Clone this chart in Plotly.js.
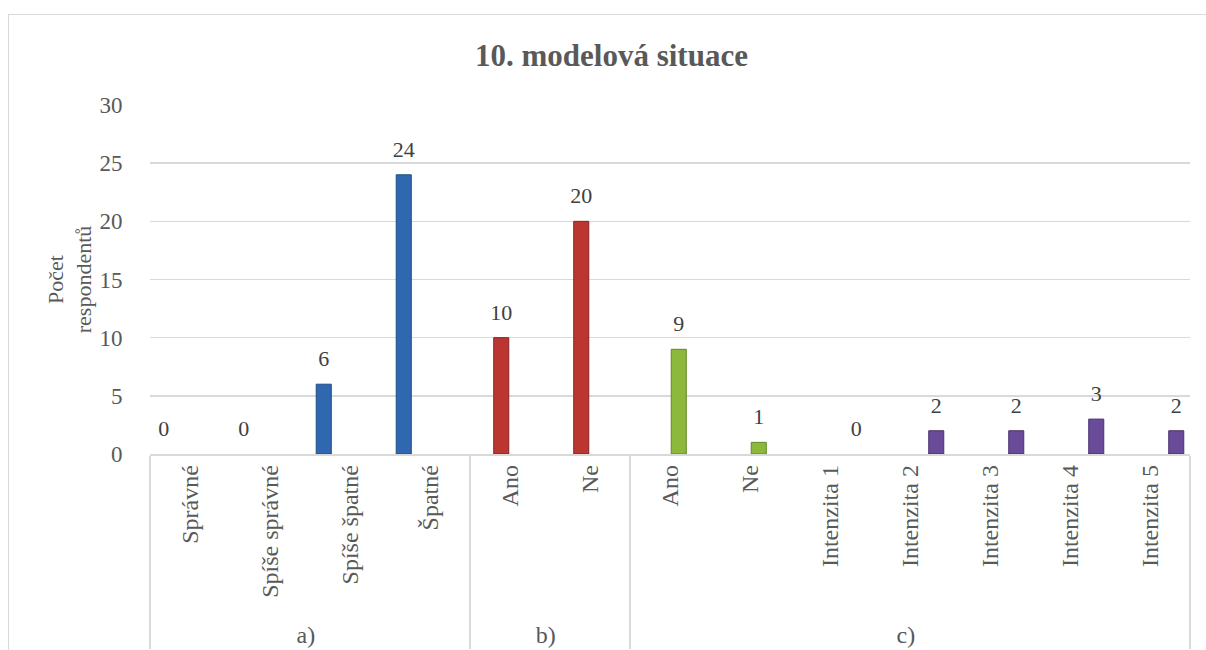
<!DOCTYPE html>
<html>
<head>
<meta charset="utf-8">
<script src="https://cdn.plot.ly/plotly-3.0.1.min.js"></script>
<style>
  html, body { margin: 0; padding: 0; background: #fff; overflow: hidden; }
  #wrap { position: relative; width: 1206px; height: 650px; }
  #chart { width: 1206px; height: 650px; }
  #frame {
    position: absolute; left: 8px; top: 14px; width: 1210px; height: 650px;
    border: 1.5px solid #d9d9d9; pointer-events: none; box-sizing: border-box;
  }
</style>
</head>
<body>
<div id="wrap">
  <div id="chart"></div>
  <div id="frame"></div>
</div>
<script>
// Question groups and their answer categories
const groupA = "a)";
const groupB = "b)";
const groupC = "c)";

const catsA = ["Správné", "Spíše správné", "Spíše špatné", "Špatné"];
const valsA = [0, 0, 6, 24];

const catsB = ["Ano", "Ne"];
const valsB = [10, 20];

const catsC1 = ["Ano", "Ne"];
const valsC1 = [9, 1];

const catsC2 = ["Intenzita 1", "Intenzita 2", "Intenzita 3", "Intenzita 4", "Intenzita 5"];
const valsC2 = [0, 2, 2, 3, 2];

const yTicks = [0, 5, 10, 15, 20, 25, 30];

const serif = "'Liberation Serif', 'Times New Roman', serif";
// gap (in axis units) between a bar's top and its value label
const LABEL_GAP = 0.85;

function series(group, cats, vals, fill, edge, slot) {
  const x = [cats.map(() => group), cats];
  const bar = {
    type: "bar",
    x: x,
    y: vals,
    offsetgroup: slot,
    alignmentgroup: "all",
    // no outline on empty (zero) bars
    marker: { color: fill, line: { color: edge, width: vals.map(v => (v ? 1 : 0)) } },
    hoverinfo: "x+y",
    showlegend: false
  };
  // transparent spacer sitting on top of each bar, carrying the value label
  const label = {
    type: "bar",
    x: x,
    base: vals,
    y: vals.map(() => LABEL_GAP),
    offsetgroup: slot,
    alignmentgroup: "all",
    marker: { color: "rgba(0,0,0,0)", line: { width: 0 } },
    text: vals.map(String),
    textposition: "outside",
    constraintext: "none",
    cliponaxis: false,
    textfont: { family: serif, size: 22, color: "#404040" },
    hoverinfo: "skip",
    showlegend: false
  };
  return [bar, label];
}

const data = [
  ...series(groupA, catsA, valsA, "#2f68b0", "#1f4a82", "s1"),
  ...series(groupB, catsB, valsB, "#bb3531", "#8a2220", "s2"),
  ...series(groupC, catsC1, valsC1, "#8cb83c", "#63852a", "s3"),
  ...series(groupC, catsC2, valsC2, "#6a4b9a", "#4a3370", "s4")
];

const layout = {
  width: 1206,
  height: 650,
  margin: { l: 150, r: 16, t: 105, b: 196, pad: 0 },
  paper_bgcolor: "rgba(0,0,0,0)",
  plot_bgcolor: "#fff",
  barmode: "group",
  bargap: 0.125,
  bargroupgap: 0.14,
  font: { family: serif, color: "#595959" },
  title: {
    text: "<b>10. modelová situace</b>",
    font: { family: serif, size: 31, color: "#595959" },
    x: 0.507, xanchor: "center",
    y: 0.915, yanchor: "middle"
  },
  xaxis: {
    type: "multicategory",
    tickangle: -90,
    tickfont: { family: serif, size: 24, color: "#595959" },
    showline: true, linecolor: "#d9d9d9", linewidth: 1.5,
    showdividers: true, dividercolor: "#d9d9d9", dividerwidth: 1.5,
    ticks: "", showgrid: false
  },
  yaxis: {
    range: [0, 30],
    tickvals: yTicks,
    ticks: "outside", ticklen: 22, tickcolor: "rgba(0,0,0,0)",
    tickfont: { family: serif, size: 23, color: "#595959" },
    showgrid: true, gridcolor: "#d9d9d9", gridwidth: 1.5,
    zeroline: false, showline: false,
    title: {
      text: "Počet<br>respondentů",
      font: { family: serif, size: 22, color: "#595959" },
      standoff: 1
    }
  }
};

Plotly.newPlot("chart", data, layout, { displayModeBar: false, staticPlot: true });
</script>
</body>
</html>
